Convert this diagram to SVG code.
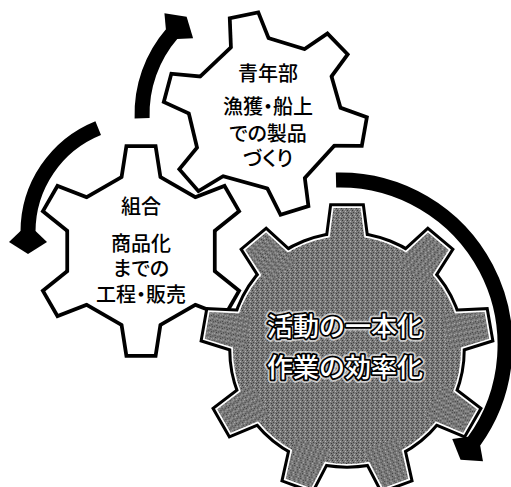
<svg xmlns="http://www.w3.org/2000/svg" width="511" height="487" viewBox="0 0 511 487">
<style>
.ol{fill:#000;stroke:#000;stroke-width:7.5;stroke-linejoin:miter}
.wf{fill:#fff;stroke:none}
.ol3{fill:#000;stroke:#000;stroke-width:9.5;stroke-linejoin:miter}
.wl3{fill:#fff;stroke:#fff;stroke-width:3.5;stroke-linejoin:miter}
.gf{fill:url(#dither);stroke:none}
.t{font-family:"Noto Sans CJK JP","Noto Sans CJK SC",sans-serif;font-size:20px;font-weight:500;fill:#000;text-anchor:middle;font-feature-settings:"palt"}
.th{font-family:"Noto Sans CJK JP","Noto Sans CJK SC",sans-serif;font-size:26px;font-weight:500;text-anchor:middle;fill:#fff;stroke:#fff;stroke-width:7;stroke-opacity:.6;stroke-linejoin:round}
.tb{font-family:"Noto Sans CJK JP","Noto Sans CJK SC",sans-serif;font-size:26px;font-weight:500;text-anchor:middle;fill:#fff;stroke:#000;stroke-width:3.5;paint-order:stroke;stroke-linejoin:round}
.arc{fill:none;stroke:#000;stroke-width:15;marker-end:url(#head)}
</style>
<defs>
<pattern id="dither" width="5" height="5" patternUnits="userSpaceOnUse">
<rect width="5" height="5" fill="#7a7a7a"/>
<rect x="0" y="0" width="1" height="1" fill="#3a3a3a"/>
<rect x="3" y="1" width="1" height="1" fill="#b4b4b4"/>
<rect x="1" y="2" width="1" height="1" fill="#444"/>
<rect x="4" y="3" width="1" height="1" fill="#3a3a3a"/>
<rect x="2" y="4" width="1" height="1" fill="#b0b0b0"/>
</pattern>
<marker id="head" markerUnits="userSpaceOnUse" orient="auto" refX="0" refY="0" markerWidth="30" markerHeight="40" overflow="visible">
<path d="M-1,-7.5 L10,-19 L22,0 L10,19 L-1,7.5 Z" fill="#000"/>
</marker>
<polygon id="t1" points="-20,-58 20,-58 13,-99 -13,-99"/>
<polygon id="t2" points="-20,-58 20,-58 13,-103 -13,-103"/>
<polygon id="t3" points="-19,-100 19,-100 13.5,-142 -13.5,-142"/>
<g id="s1">
<polygon points="-17,-80.2 59,-57 80.2,17 24,78.4 -60.9,54.9 -79.2,-21.2"/>
<use href="#t1" transform="rotate(-12)"/>
<use href="#t1" transform="rotate(46)"/>
<use href="#t1" transform="rotate(100)"/>
<use href="#t1" transform="rotate(163)"/>
<use href="#t1" transform="rotate(229)"/>
<use href="#t1" transform="rotate(285)"/>
</g>
<g id="s2">
<polygon points="0,-83 71.9,-41.5 71.9,41.5 0,83 -71.9,41.5 -71.9,-41.5"/>
<use href="#t2"/>
<use href="#t2" transform="rotate(60)"/>
<use href="#t2" transform="rotate(120)"/>
<use href="#t2" transform="rotate(180)"/>
<use href="#t2" transform="rotate(240)"/>
<use href="#t2" transform="rotate(300)"/>
</g>
<g id="s3">
<circle r="114"/>
<use href="#t3"/>
<use href="#t3" transform="rotate(40)"/>
<use href="#t3" transform="rotate(80)"/>
<use href="#t3" transform="rotate(120)"/>
<use href="#t3" transform="rotate(160)"/>
<use href="#t3" transform="rotate(200)"/>
<use href="#t3" transform="rotate(240)"/>
<use href="#t3" transform="rotate(280)"/>
<use href="#t3" transform="rotate(320)"/>
</g>
</defs>
<rect width="511" height="487" fill="#fff"/>
<g id="gear-kumiai">
<use href="#s2" transform="translate(141,251)" class="ol"/>
<use href="#s2" transform="translate(141,251)" class="wf"/>
<text class="t" x="141" y="214">組合</text>
<text class="t" x="141" y="251">商品化</text>
<text class="t" x="141" y="276">までの</text>
<text class="t" x="141" y="302">工程・販売</text>
</g>
<g id="gear-seinenbu">
<use href="#s1" transform="translate(265,114)" class="ol"/>
<use href="#s1" transform="translate(265,114)" class="wf"/>
<text class="t" x="268" y="81">青年部</text>
<text class="t" x="268" y="114">漁獲・船上</text>
<text class="t" x="268" y="141">での製品</text>
<text class="t" x="268" y="166">づくり</text>
</g>
<g id="gear-ittaika">
<use href="#s3" transform="translate(347,350)" class="ol3"/>
<use href="#s3" transform="translate(347,350)" class="wl3"/>
<use href="#s3" transform="translate(347,350)" class="gf"/>
<text class="th" x="345" y="336">活動の一本化</text>
<text class="th" x="345" y="377">作業の効率化</text>
<text class="tb" x="345" y="336">活動の一本化</text>
<text class="tb" x="345" y="377">作業の効率化</text>
</g>
<g id="connectors">
<path class="arc" d="M142.1,118.3 A123,123 0 0 1 172.2,33.3"/>
<path class="arc" d="M98.2,128.1 A112,112 0 0 0 28,232"/>
<path class="arc" d="M336,180 A165,165 0 0 1 473.5,442"/>
</g>
</svg>
